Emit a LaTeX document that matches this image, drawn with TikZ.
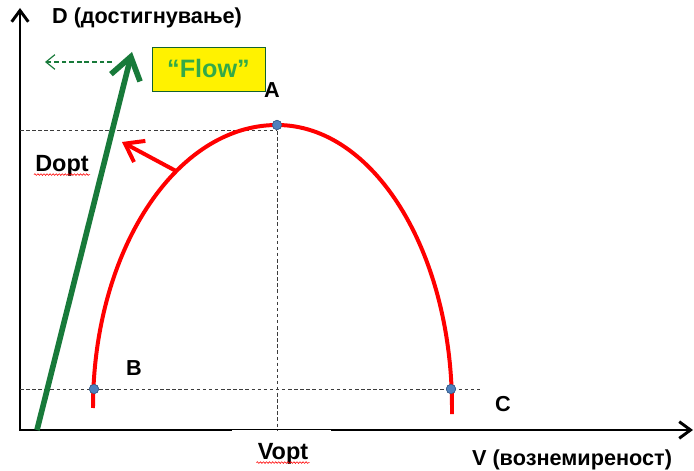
\documentclass[tikz,border=0pt]{standalone}
\usepackage{fontspec}
\setmainfont{Liberation Sans}
\usetikzlibrary{arrows.meta,decorations.pathmorphing}
\definecolor{arrowgreen}{RGB}{24,122,58}
\definecolor{flowgreen}{RGB}{52,170,72}
\definecolor{dotblue}{RGB}{79,129,189}
\definecolor{dotedge}{RGB}{56,93,138}
\definecolor{dashgray}{RGB}{60,60,60}
\begin{document}
\begin{tikzpicture}[x=0.03cm,y=0.03cm,font=\bfseries,
  axis/.style={line width=2.5pt,line join=miter,{Straight Barb[length=3.4mm,width=5mm]}-{Straight Barb[length=3.4mm,width=5mm]}},
  guide/.style={dashgray,line width=0.8pt,dash pattern=on 3pt off 2.2pt},
  curve/.style={red,line width=3.4pt},
  push/.style={red,line width=3.4pt,-{Straight Barb[length=5mm,width=7.2mm]}},
  flow/.style={arrowgreen,line width=4.8pt,-{Straight Barb[length=6.5mm,width=9mm]}},
  back/.style={arrowgreen,line width=1pt,dash pattern=on 4pt off 2.5pt,-{Straight Barb[length=2.7mm,width=4.4mm]}},
  dot/.style={circle,fill=dotblue,draw=dotedge,line width=0.5pt,inner sep=0pt,minimum size=8pt},
  flowbox/.style={fill=yellow,draw=arrowgreen!80!black,line width=0.6pt,minimum width=3.39cm,minimum height=1.32cm,text=flowgreen,font=\bfseries\fontsize{21.5}{24}\selectfont},
  lbl/.style={font=\bfseries\fontsize{18.5}{20}\selectfont},
  opt/.style={inner sep=1pt,font=\bfseries\fontsize{20}{22}\selectfont},
  squig/.style={red,line width=0.5pt,decorate,decoration={snake,amplitude=0.7pt,segment length=2.6pt}}]
  \useasboundingbox (0,0) rectangle (694,470);
  \coordinate (O) at (20,40);
  \coordinate (ytop) at (20,462);
  \coordinate (xend) at (693,40);
  \coordinate (dA) at (20,340);
  \coordinate (bEnd) at (481,81);
  \coordinate (redL) at (93,62);
  \coordinate (redR) at (452,56);
  \coordinate (pushFrom) at (176,299);
  \coordinate (pushTo) at (122,328);
  \coordinate (flowFrom) at (37,40);
  \coordinate (flowTo) at (132,418);
  \coordinate (back0) at (112,408);
  \coordinate (back1) at (45,408);
  \node[dot] (ptA) at (277,345) {};
  \node[dot] (ptB) at (94,81) {};
  \node[dot] (ptC) at (451,81) {};
  \draw[axis] (ytop) -- (O) -- (xend);
  \node[fill=white,minimum width=2.97cm,minimum height=1.1cm,anchor=north] (vgap) at (281.5,40) {};
  \draw[guide] (dA) -- (ptA.center |- dA);
  \draw[guide] (ptA.center) -- (ptA.center |- O);
  \draw[guide] (O |- ptB) -- (bEnd);
  \draw[curve] (redL) arc[start angle=180,end angle=90,x radius=184,y radius=283]
    arc[start angle=90,end angle=0,x radius=175,y radius=283] -- (redR);
  \draw[push] (pushFrom) -- (pushTo);
  \draw[flow] (flowFrom) -- (flowTo);
  \draw[back] (back0) -- (back1);
  \node[dot] at (ptA) {};
  \node[dot] at (ptB) {};
  \node[dot] at (ptC) {};
  \node[flowbox] (flowlbl) at (208.5,401) {“Flow”};
  \node[lbl] (dlbl) at (147,452) {D (достигнување)};
  \node[lbl] (vlbl) at (572,10) {V (вознемиреност)};
  \node[lbl] (lblA) at (272,380) {A};
  \node[lbl] (lblB) at (134,102) {B};
  \node[lbl] (lblC) at (503,66) {C};
  \node[opt] (dopt) at (62,304) {Dopt};
  \node[opt] (vopt) at (283,16) {Vopt};
  \draw[squig] ([yshift=-2.5pt]dopt.base west) -- ([yshift=-2.5pt]dopt.base east);
  \draw[squig] ([yshift=-2.5pt]vopt.base west) -- ([yshift=-2.5pt]vopt.base east);
\end{tikzpicture}
\end{document}
